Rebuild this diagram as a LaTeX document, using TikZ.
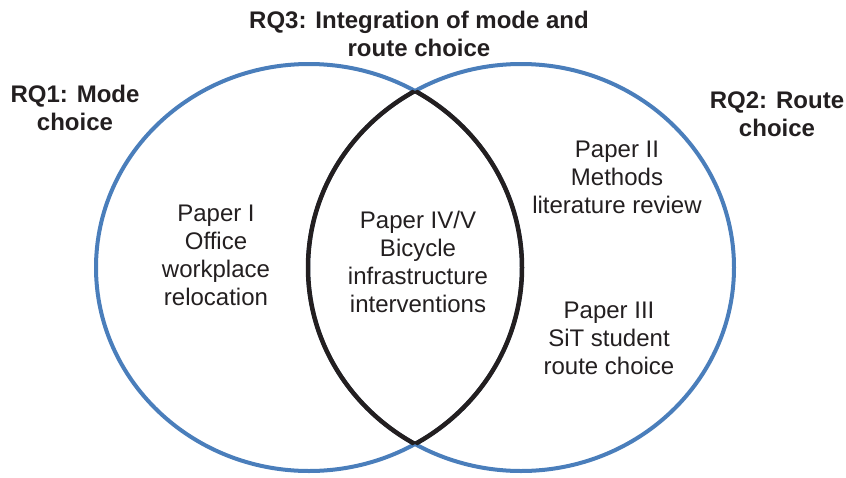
\documentclass[tikz,border=0pt]{standalone}
\usepackage{fontspec}
\setmainfont{Liberation Sans}
\definecolor{ringblue}{HTML}{4A7EBB}
\definecolor{inkdark}{HTML}{231F20}
\begin{document}
\begin{tikzpicture}[x=1pt,y=-1pt,
  ring/.style={draw=ringblue,line width=4pt},
  lens/.style={draw=inkdark,line width=4.5pt},
  paper/.style={align=center,text=inkdark,font=\fontsize{24}{28}\selectfont,inner sep=0pt},
  rq/.style={align=center,text=inkdark,font=\fontsize{24}{27.5}\selectfont\bfseries,inner sep=0pt}]
\useasboundingbox (0,0) rectangle (846,477);
% the two research-question sets
\path[ring] (309,267.5) ellipse [x radius=213,y radius=203.5];
\path[ring] (521,267.5) ellipse [x radius=213,y radius=203.5];
% overlap outlined in black
\begin{scope}
  \clip (521,267.5) ellipse [x radius=213,y radius=203.5];
  \path[lens] (309,267.5) ellipse [x radius=213,y radius=203.5];
\end{scope}
\begin{scope}
  \clip (309,267.5) ellipse [x radius=213,y radius=203.5];
  \path[lens] (521,267.5) ellipse [x radius=213,y radius=203.5];
\end{scope}
% set labels
\node[rq] (rq3) at (419,34) {RQ3: Integration of mode and\\route choice};
\node[rq] (rq1) at (75,108) {RQ1: Mode\\choice};
\node[rq] (rq2) at (777,114) {RQ2: Route\\choice};
% papers
\node[paper] (p1) at (216,255) {Paper I\\Office\\workplace\\relocation};
\node[paper] (p45) at (418,262) {Paper IV/V\\Bicycle\\infrastructure\\interventions};
\node[paper] (p2) at (617,177) {Paper II\\Methods\\literature review};
\node[paper] (p3) at (609,338) {Paper III\\SiT student\\route choice};
\end{tikzpicture}
\end{document}
